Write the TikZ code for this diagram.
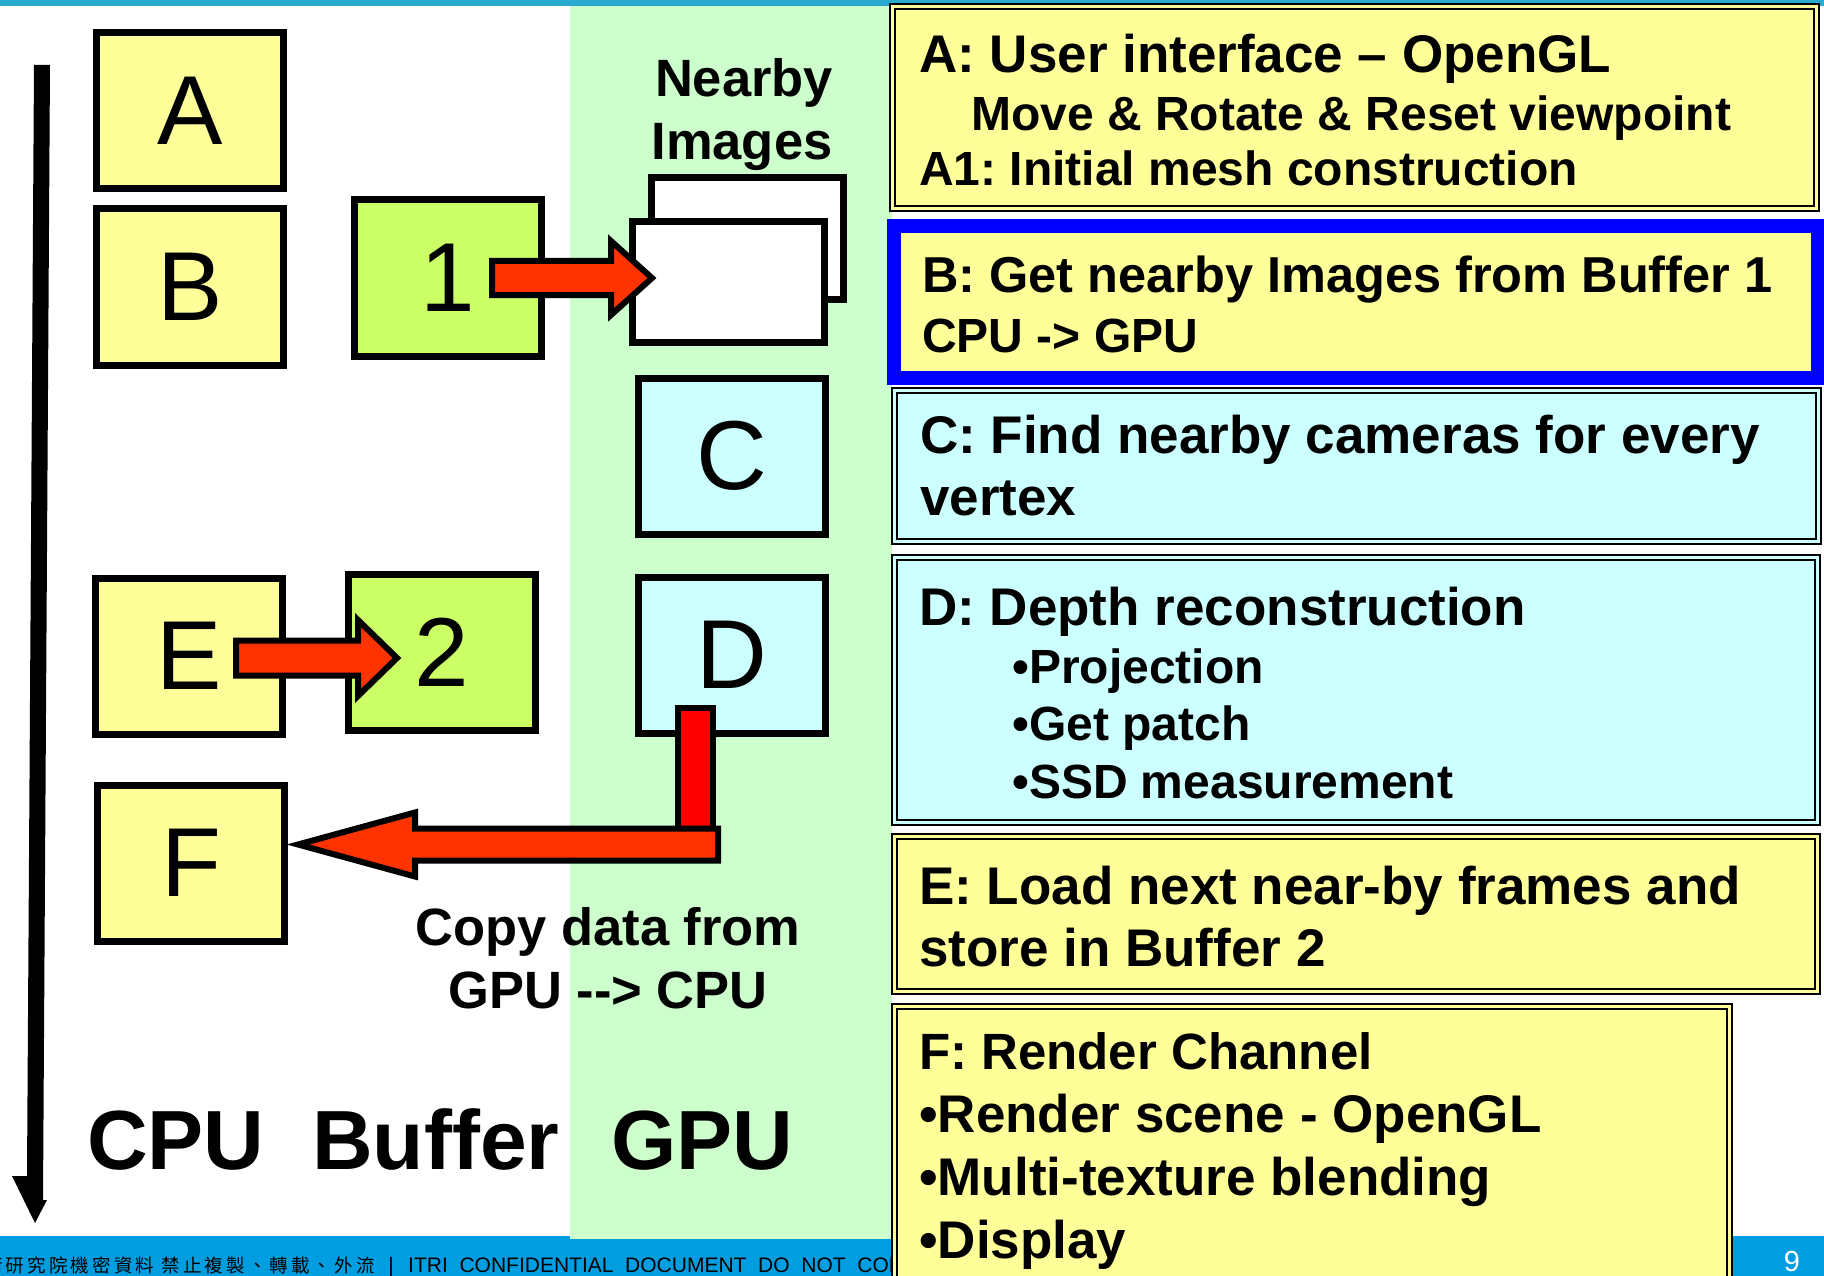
\documentclass[tikz,border=0pt]{standalone}
\usepackage{fontspec}
\setmainfont{Liberation Sans}
\newfontfamily\cjkfont{Noto Sans CJK TC}[LetterSpace=17]
\usetikzlibrary{calc}
\frenchspacing

\definecolor{topbar}{RGB}{41,171,209}
\definecolor{botbar}{RGB}{0,158,224}
\definecolor{panel}{RGB}{204,255,204}
\definecolor{paleyellow}{RGB}{255,255,153}
\definecolor{limebox}{RGB}{204,255,102}
\definecolor{palecyan}{RGB}{204,255,255}
\definecolor{arroworange}{RGB}{255,51,0}
\definecolor{arrowred}{RGB}{255,0,0}
\definecolor{frameblue}{RGB}{0,0,255}

% block arrow: start, tip, shaft half-height, head half-height, head length (signed), fill
\newcommand{\blockarrow}[6]{%
  \draw[line width=6pt, miter limit=20, fill=#6]
    let \p1=(#1), \p2=(#2) in
    ({\x1},{\y1+#3pt}) -- ({\x2-(#5pt)},{\y1+#3pt}) -- ({\x2-(#5pt)},{\y1+#4pt}) -- ({\x2},{\y2})
    -- ({\x2-(#5pt)},{\y1-#4pt}) -- ({\x2-(#5pt)},{\y1-#3pt}) -- ({\x1},{\y1-#3pt}) -- cycle;}

\begin{document}
\begin{tikzpicture}[x=1pt,y=-1pt,
  lbox/.style={draw, line width=7pt, minimum width=187pt, minimum height=156pt,
    inner sep=0pt, font=\fontsize{98pt}{100pt}\selectfont},
  imgbox/.style={draw, line width=7pt, fill=white, minimum width=192pt,
    minimum height=121pt, inner sep=0pt},
  rbox/.style={draw, line width=1.8pt, double distance=3.5pt, inner sep=0pt},
  hdr/.style={anchor=base west, inner sep=0pt, font=\bfseries\fontsize{53pt}{55pt}\selectfont},
  sub/.style={anchor=base west, inner sep=0pt, font=\bfseries\fontsize{48pt}{50pt}\selectfont},
  lbl/.style={anchor=base, inner sep=0pt, font=\bfseries\fontsize{52.5pt}{54pt}\selectfont},
  big/.style={anchor=base west, inner sep=0pt, font=\bfseries\fontsize{84pt}{86pt}\selectfont}]

\useasboundingbox (0,0) rectangle (1824,1276);
\clip (0,0) rectangle (1824,1276);

% background, bars and the GPU panel
\fill[white] (0,0) rectangle (1824,1276);
\fill[topbar] (0,0) rectangle (1824,6.5);
\fill[botbar] (0,1236) rectangle (1824,1276);
\fill[panel] (570,6.5) rectangle (892,1239);

% footer line
\node[anchor=base east, inner sep=0pt, font=\cjkfont\fontsize{18.5pt}{20pt}\selectfont]
  (footcjk) at (375,1272) {工業技術研究院機密資料 禁止複製、轉載、外流};
\node[anchor=base, inner sep=0pt, font=\fontsize{21pt}{22pt}\selectfont] (footbar) at (391,1272) {|};
\node[anchor=base west, inner sep=0pt, font=\fontsize{21pt}{23pt}\selectfont]
  (footlat) at (408,1272) {ITRI\ \ CONFIDENTIAL\ \ DOCUMENT\ \ DO\ \ NOT\ \ COPY};
\node[text=white, inner sep=0pt, font=\fontsize{29pt}{30pt}\selectfont] (pageno) at (1792,1262) {9};

% time axis
\coordinate (timetop) at (42,65);
\coordinate (timeend) at (35,1223);
\fill (34,65) -- (50,65) -- (43,1200) -- (47,1200) -- (timeend) -- (12,1176) -- (27,1176) -- cycle;

% CPU side
\node[lbox, fill=paleyellow] (A) at (190,111) {A};
\node[lbox, fill=paleyellow] (B) at (190,287) {B};
\node[lbox, fill=paleyellow] (E) at (189,656) {E};
\node[lbox, fill=paleyellow] (F) at (191,863) {F};
% buffers
\node[lbox, fill=limebox] (buf1) at (448,278) {1};
\node[lbox, fill=limebox] (buf2) at (442,652) {2};
% GPU side
\node[imgbox] (imgback) at (747.5,238.5) {};
\node[imgbox] (imgfront) at (728.5,282) {};
\node[lbox, fill=palecyan] (C) at (732,456) {C};
\node[lbox, fill=palecyan] (D) at (732,655) {D};

% labels
\node[lbl] (nearby) at (744,97) {Nearby};
\node[lbl] (images) at (742,160) {Images};
\node[lbl] (copy1) at (608,945) {Copy data from};
\node[lbl] (copy2) at (608,1008) {GPU -\kern0pt-> CPU};
\node[big] (cpu) at (87,1169) {CPU};
\node[big] (buffer) at (312,1169) {Buffer};
\node[big] (gpu) at (611,1169) {GPU};

% transfers
\coordinate (a1s) at ($(buf1.center)+(44,0)$);
\coordinate (a1t) at ($(a1s -| imgfront.west)+(23,0)$);
\blockarrow{a1s}{a1t}{17}{37}{41}{arroworange}

\coordinate (a2s) at ($(E.center)+(47,2)$);
\coordinate (a2t) at ($(a2s -| buf2.west)+(52,0)$);
\blockarrow{a2s}{a2t}{17.5}{38}{39}{arroworange}

\coordinate (a3top) at ($(D.south)+(-54.5,-28.5)$);
\coordinate (a3bot) at ($(D.south)+(-19.5,103)$);
\draw[line width=6pt, fill=arrowred] (a3top) rectangle (a3bot);
\coordinate (a3s) at ($(D.south)+(-14,108)$);
\coordinate (a3t) at ($(a3s -| F.east)+(10,0)$);
\blockarrow{a3s}{a3t}{16}{32}{-117}{arroworange}

% description panels
\node[rbox, fill=paleyellow, double=paleyellow, minimum width=924pt, minimum height=202pt] (descA) at (1354.5,107.5) {};
\node[draw=frameblue, line width=14pt, fill=paleyellow, inner sep=0pt, minimum width=924pt, minimum height=152pt] (descB) at (1356,302) {};
\node[rbox, fill=palecyan, double=palecyan, minimum width=924pt, minimum height=151pt] (descC) at (1356.5,466) {};
\node[rbox, fill=palecyan, double=palecyan, minimum width=923pt, minimum height=265pt] (descD) at (1356,690) {};
\node[rbox, fill=paleyellow, double=paleyellow, minimum width=923pt, minimum height=155pt] (descE) at (1356,914) {};
\node[rbox, fill=paleyellow, double=paleyellow, minimum width=835pt, minimum height=280pt] (descF) at (1312,1146.5) {};

\node[hdr] (tA1) at (919,73) {A: User interface – OpenGL};
\node[sub] (tA2) at (971,131) {Move \& Rotate \& Reset viewpoint};
\node[sub] (tA3) at (919,186) {A1: Initial mesh construction};

\node[sub, font=\bfseries\fontsize{50.5pt}{52pt}\selectfont] (tB1) at (922,293) {B: Get nearby Images from Buffer 1};
\node[sub] (tB2) at (922,352) {CPU -> GPU};

\node[hdr] (tC1) at (920,453) {C: Find nearby cameras for every};
\node[hdr] (tC2) at (920,515) {vertex};

\node[hdr] (tD1) at (919,625) {D: Depth reconstruction};
\node[sub] (tD2) at (1012,683) {•Projection};
\node[sub] (tD3) at (1012,740) {•Get patch};
\node[sub] (tD4) at (1012,798) {•SSD measurement};

\node[hdr] (tE1) at (919,904) {E: Load next near-by frames and};
\node[hdr] (tE2) at (919,966) {store in Buffer 2};

\node[hdr, font=\bfseries\fontsize{51pt}{53pt}\selectfont] (tF1) at (919,1069) {F: Render Channel};
\node[hdr] (tF2) at (919,1132) {•Render scene - OpenGL};
\node[hdr] (tF3) at (919,1195) {•Multi-texture blending};
\node[hdr] (tF4) at (919,1258) {•Display};

\end{tikzpicture}
\end{document}
